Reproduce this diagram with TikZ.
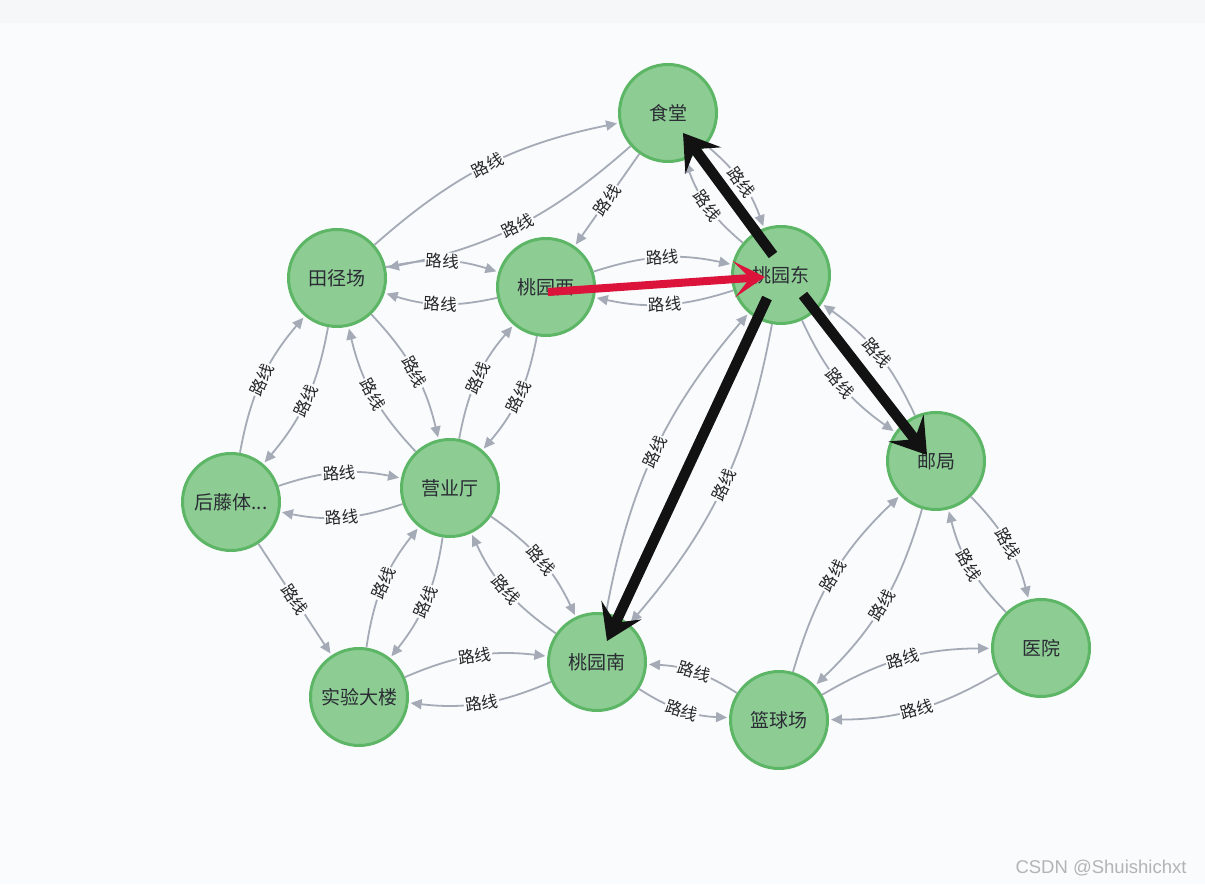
\documentclass[tikz,border=0pt]{standalone}
\usepackage{fontspec}
\newfontfamily\cjk{Noto Sans CJK SC}
\newfontfamily\wmfont{Liberation Sans}
\usetikzlibrary{arrows.meta,calc}
\definecolor{bgc}{HTML}{F9FBFD}
\definecolor{bandc}{HTML}{F6F7F8}
\definecolor{nodefill}{HTML}{8DCC93}
\definecolor{nodeborder}{HTML}{5DB665}
\definecolor{nodetext}{HTML}{2A2C34}
\definecolor{relc}{HTML}{A5ABB6}
\definecolor{hilite}{HTML}{DC143C}
\definecolor{pathblack}{HTML}{121212}
\definecolor{wmc}{HTML}{B4B4B4}
\tikzset{
  place/.style={circle, draw=nodeborder, fill=nodefill, line width=3pt, minimum size=97pt, inner sep=0pt,
    font=\cjk\fontsize{19}{19}\selectfont, text=nodetext},
  rel/.style={draw=relc, line width=1.8pt, -{Triangle[length=11pt,width=10pt]}, shorten >=2pt},
  lbl/.style={midway, sloped, fill=bgc, inner sep=1.2pt, font=\cjk\fontsize{16.5}{16.5}\selectfont, text=black!85},
  bigblack/.style={draw=pathblack, line width=10.5pt, -{Stealth[length=34pt,width=44pt,inset=14pt]}},
  bigred/.style={draw=hilite, line width=8pt, -{Stealth[length=31pt,width=36pt,inset=16pt]}}
}
\begin{document}
\begin{tikzpicture}[x=1pt,y=1pt]
\useasboundingbox (0,0) rectangle (1205,884);
\fill[bgc] (0,0) rectangle (1205,884);
\fill[bandc] (0,861) rectangle (1205,884);

\node[place] (st)  at (668,771) {食堂};
\node[place] (tjc) at (337,606) {田径场};
\node[place] (tyx) at (546,597) {桃园西};
\node[place] (tyd) at (781,609) {桃园东};
\node[place] (ht)  at (231,382) {后藤体...};
\node[place] (yyt) at (450,396) {营业厅};
\node[place] (yj)  at (936,423) {邮局};
\node[place] (tyn) at (597,222) {桃园南};
\node[place] (sy)  at (359,187) {实验大楼};
\node[place] (lq)  at (779,164) {篮球场};
\node[place] (yy)  at (1041,236) {医院};

% relationships
\draw[rel] (tjc) to[bend left=15] node[lbl]{路线} (st);
\draw[rel] (st) to[bend left=15] node[lbl]{路线} (tjc);
\draw[rel] (st) -- node[lbl]{路线} (tyx);
\draw[rel] (st) to[bend left=15] node[lbl]{路线} (tyd);
\draw[rel] (tyd) to[bend left=15] node[lbl]{路线} (st);
\draw[rel] (tjc) to[bend left=15] node[lbl]{路线} (tyx);
\draw[rel] (tyx) to[bend left=15] node[lbl]{路线} (tjc);
\draw[rel] (tyx) to[bend left=15] node[lbl]{路线} (tyd);
\draw[rel] (tyd) to[bend left=15] node[lbl]{路线} (tyx);
\draw[rel] (ht) to[bend left=15] node[lbl]{路线} (tjc);
\draw[rel] (tjc) to[bend left=15] node[lbl]{路线} (ht);
\draw[rel] (tjc) to[bend left=15] node[lbl]{路线} (yyt);
\draw[rel] (yyt) to[bend left=15] node[lbl]{路线} (tjc);
\draw[rel] (yyt) to[bend left=15] node[lbl]{路线} (tyx);
\draw[rel] (tyx) to[bend left=15] node[lbl]{路线} (yyt);
\draw[rel] (ht) to[bend left=15] node[lbl]{路线} (yyt);
\draw[rel] (yyt) to[bend left=15] node[lbl]{路线} (ht);
\draw[rel] (ht) -- node[lbl]{路线} (sy);
\draw[rel] (sy) to[bend left=15] node[lbl]{路线} (yyt);
\draw[rel] (yyt) to[bend left=15] node[lbl]{路线} (sy);
\draw[rel] (yyt) to[bend left=15] node[lbl]{路线} (tyn);
\draw[rel] (tyn) to[bend left=15] node[lbl]{路线} (yyt);
\draw[rel] (sy) to[bend left=15] node[lbl]{路线} (tyn);
\draw[rel] (tyn) to[bend left=15] node[lbl]{路线} (sy);
\draw[rel] (tyn) to[bend left=15] node[lbl]{路线} (tyd);
\draw[rel] (tyd) to[bend left=15] node[lbl]{路线} (tyn);
\draw[rel] (tyd) to[bend right=15] node[lbl]{路线} (yj);
\draw[rel] (yj) to[bend right=15] node[lbl]{路线} (tyd);
\draw[rel] (yj) to[bend left=15] node[lbl]{路线} (yy);
\draw[rel] (yy) to[bend left=15] node[lbl]{路线} (yj);
\draw[rel] (lq) to[bend left=15] node[lbl]{路线} (yj);
\draw[rel] (yj) to[bend left=15] node[lbl]{路线} (lq);
\draw[rel] (tyn) to[bend right=15] node[lbl]{路线} (lq);
\draw[rel] (lq) to[bend right=15] node[lbl]{路线} (tyn);
\draw[rel] (lq) to[bend left=15] node[lbl]{路线} (yy);
\draw[rel] (yy) to[bend left=15] node[lbl]{路线} (lq);

% highlighted path
\draw[bigred] ($(tyx.center)+(2,-5)$) -- ($(tyd.center)+(-16,-2)$);
\draw[bigblack] ($(tyd.center)+(-8,20)$) -- ($(st.center)+(15,-20)$);
\draw[bigblack] ($(tyd.center)+(-14,-23)$) -- ($(tyn.center)+(10,21)$);
\draw[bigblack] ($(tyd.center)+(22,-20)$) -- ($(yj.center)+(-9,6)$);

\node[anchor=base east, font=\wmfont\fontsize{18.5}{18.5}\selectfont, text=wmc] (wm) at (1190,11) {CSDN @Shuishichxt};
\end{tikzpicture}
\end{document}
